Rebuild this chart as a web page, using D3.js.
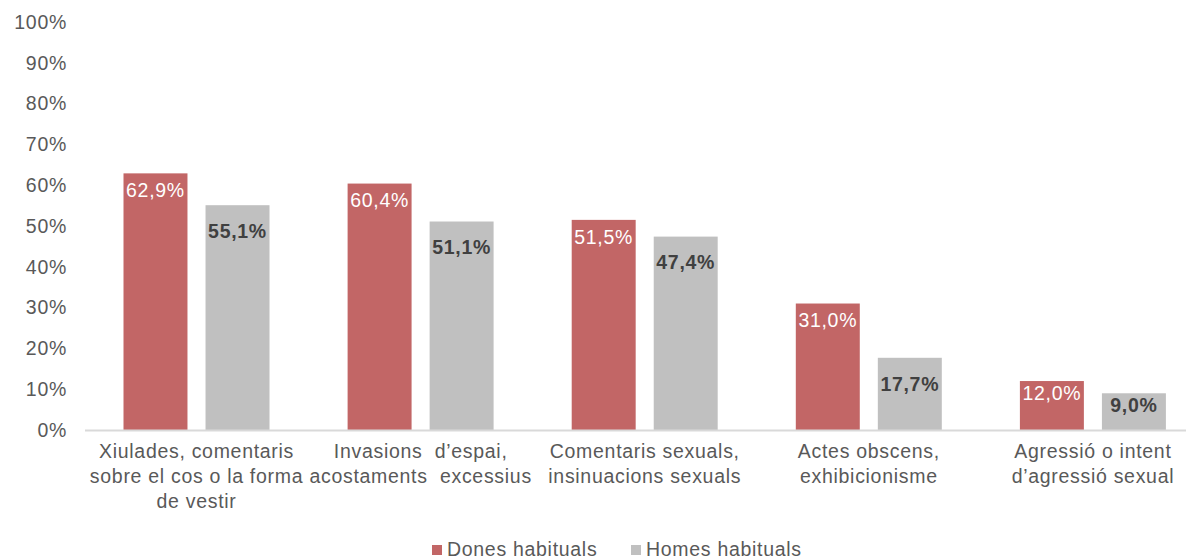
<!DOCTYPE html>
<html><head><meta charset="utf-8">
<script src="https://cdn.jsdelivr.net/npm/d3@7"></script>
<style>body{margin:0;background:#fff}svg{display:block;font-family:"Liberation Sans",Arial,sans-serif}
text{letter-spacing:0.7px}</style>
</head><body><svg id="c" width="1186" height="560"></svg>
<script>
const categories = [
  ["Xiulades, comentaris","sobre el cos o la forma","de vestir"],
  ["Invasions  d\u2019espai,","acostaments  excessius"],
  ["Comentaris sexuals,","insinuacions sexuals"],
  ["Actes obscens,","exhibicionisme"],
  ["Agressió o intent","d\u2019agressió sexual"]
];
const seriesNames = ["Dones habituals","Homes habituals"];
const dones = [62.9, 60.4, 51.5, 31.0, 12.0];
const homes = [55.1, 51.1, 47.4, 17.7, 9.0];
const yTicks = [0,10,20,30,40,50,60,70,80,90,100];

const FS = "19.5px";
const svg = d3.select("#c");
const x0 = d3.scaleBand().domain(d3.range(categories.length)).range([84.5, 1205]).paddingInner(0).paddingOuter(0);
const y = d3.scaleLinear().domain([0,100]).range([430, 22]);
const x1 = d3.scaleBand().domain([0,1]).range([39, 185]).paddingInner(0.22);
const colors = ["#C26666", "#C0C0C0"];
const fmt = v => d3.format(".1f")(v).replace(".", ",") + "%";

// y axis labels
const yAxis = d3.axisLeft(y).tickValues(yTicks).tickFormat(d => d + "%").tickSize(0).tickPadding(0);
const ga = svg.append("g").attr("transform","translate(67,0)").call(yAxis);
ga.select(".domain").remove();
ga.selectAll("text").attr("fill","#595959").style("font-size",FS).style("font-family",'"Liberation Sans",Arial,sans-serif');

// bars
const data = categories.map((c,i)=>({i, vals:[dones[i], homes[i]]}));
const groups = svg.append("g").selectAll("g").data(data).join("g")
  .attr("transform", d => `translate(${x0(d.i)},0)`);
groups.selectAll("rect").data(d => d.vals.map((v,s)=>({v,s}))).join("rect")
  .attr("x", d => x1(d.s)).attr("width", x1.bandwidth())
  .attr("y", d => y(d.v)).attr("height", d => y(0) - y(d.v))
  .attr("fill", d => colors[d.s]);
groups.selectAll("text").data(d => d.vals.map((v,s)=>({v,s}))).join("text")
  .attr("x", d => x1(d.s) + x1.bandwidth()/2)
  .attr("y", d => {
    const h = y(0) - y(d.v);
    const off = h < 60 ? 12 : (d.s === 0 ? 17 : 26);
    return y(d.v) + off;
  })
  .attr("dy","0.35em")
  .attr("text-anchor","middle")
  .attr("fill", d => d.s === 0 ? "#ffffff" : "#404040")
  .attr("font-weight", d => d.s === 0 ? "normal" : "bold")
  .style("font-size",FS)
  .text(d => fmt(d.v));

// x axis line
svg.append("line").attr("x1",85).attr("x2",1186).attr("y1",430.5).attr("y2",430.5)
  .attr("stroke","#D9D9D9").attr("stroke-width",2);

// x labels
const xl = svg.append("g").selectAll("text").data(categories.map((c,i)=>({c,i}))).join("text")
  .attr("y", 451).attr("text-anchor","middle").attr("fill","#595959").style("font-size",FS);
xl.selectAll("tspan").data(d => d.c.map(t=>({t, x: x0(d.i)+x0.bandwidth()/2}))).join("tspan")
  .attr("x", d => d.x).attr("dy", (d,k) => k === 0 ? "0.35em" : "25px")
  .style("white-space","pre").text(d => d.t);

// legend
const leg = svg.append("g");
const legX = [432, 631];
seriesNames.forEach((n,s)=>{
  leg.append("rect").attr("x",legX[s]).attr("y",545).attr("width",10).attr("height",10).attr("fill",colors[s]);
  leg.append("text").attr("x",legX[s]+15).attr("y",549).attr("dy","0.35em").attr("fill","#595959").style("font-size",FS).text(n);
});
</script></body></html>
